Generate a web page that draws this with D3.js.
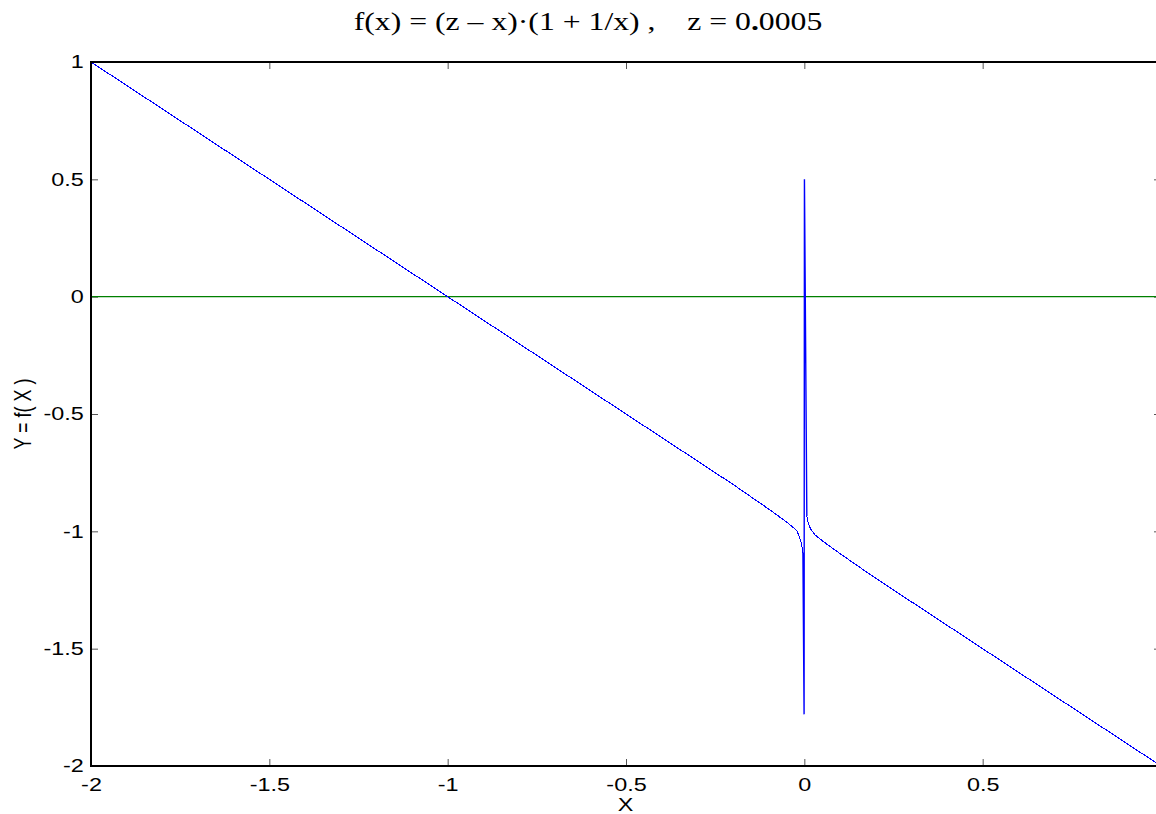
<!DOCTYPE html>
<html>
<head>
<meta charset="utf-8">
<script src="https://cdn.jsdelivr.net/npm/d3@7"></script>
<style>
    body { margin: 0; background: #fff; }
    svg { display: block; }
    .tick text { font-family: "Liberation Sans", Arial, sans-serif; font-size: 18px; fill: #000; }
</style>
</head>
<body>
<svg id="chart" width="1156" height="814"></svg>
<script>
// values
const xTicks = [-2, -1.5, -1, -0.5, 0, 0.5];
const yTicks = [1, 0.5, 0, -0.5, -1, -1.5, -2];
const xDomain = [-2, 1];
const yDomain = [-2, 1];

// left branch of f(x), x < 0
const leftX = [-2, -1.5, -1, -0.5, -0.2, -0.1, -0.05, -0.03, -0.02, -0.01, -0.006, -0.004];
const leftY = [1.0, 0.5, 0.0, -0.5, -0.8, -0.905, -0.96, -0.985, -1.0, -1.04, -1.07, -1.09];
// the spike around zero
const spikeX = [-0.004, -0.0007, 0.0003, 0.007];
const spikeY = [-1.09, -1.78, 0.5, -0.935];
// right branch, x > 0
const rightX = [0.007, 0.01, 0.015, 0.02, 0.03, 0.05, 0.1, 0.2, 0.5, 1.0];
const rightY = [-0.935, -0.96, -0.98, -0.995, -1.015, -1.04, -1.095, -1.2, -1.5, -2.0];
// y = 0 reference line
const zeroX = [-2, 1];
const zeroY = [0, 0];

const margin = { top: 62, left: 91 };
const plotW = 1070, plotH = 704;
// the picture's text is drawn wider than it is tall
const stretch = 1.3;

const svg = d3.select("#chart");

const x = d3.scaleLinear().domain(xDomain).range([margin.left, margin.left + plotW]);
const y = d3.scaleLinear().domain(yDomain).range([margin.top + plotH, margin.top]);

const fmt = (d) => String(d);

// axes, MATLAB style: ticks point inwards, box all round
const g = svg.append("g");

g.append("g")
    .attr("transform", `translate(0,${margin.top + plotH})`)
    .call(d3.axisBottom(x).tickValues(xTicks).tickFormat(fmt).tickSize(-7).tickPadding(12))
    .call((a) => a.select(".domain").remove());
g.append("g")
    .attr("transform", `translate(0,${margin.top})`)
    .call(d3.axisTop(x).tickValues(xTicks).tickFormat("").tickSize(-7))
    .call((a) => a.select(".domain").remove());
g.append("g")
    .attr("transform", `translate(${margin.left},0)`)
    .call(d3.axisLeft(y).tickValues(yTicks).tickFormat(fmt).tickSize(-7).tickPadding(5.5))
    .call((a) => a.select(".domain").remove());
g.append("g")
    .attr("transform", `translate(${margin.left + plotW},0)`)
    .call(d3.axisRight(y).tickValues(yTicks).tickFormat("").tickSize(-7))
    .call((a) => a.select(".domain").remove());

g.selectAll(".tick line").attr("stroke", "#555").attr("stroke-width", 1);
g.selectAll(".tick text").attr("transform", `scale(${stretch},1)`);

const line = d3.line().x((d) => x(d[0])).y((d) => y(d[1]));
const pairs = (xs, ys) => xs.map((v, i) => [v, ys[i]]);

const plot = svg.append("g");

plot.append("path")
    .attr("d", line(pairs(zeroX, zeroY)))
    .attr("fill", "none")
    .attr("stroke", "#008000")
    .attr("stroke-width", 1.2);

[pairs(leftX, leftY), pairs(rightX, rightY)].forEach((pts) => {
    plot.append("path")
        .attr("d", line(pts))
        .attr("fill", "none")
        .attr("stroke", "#0000ff")
        .attr("stroke-width", 1.1)
        .attr("shape-rendering", "crispEdges");
});

plot.append("path")
    .attr("d", line(pairs(spikeX, spikeY)))
    .attr("fill", "none")
    .attr("stroke", "#0000ff")
    .attr("stroke-width", 1.4);

// box
svg.append("rect")
    .attr("x", margin.left)
    .attr("y", margin.top)
    .attr("width", plotW)
    .attr("height", plotH)
    .attr("fill", "none")
    .attr("stroke", "#000")
    .attr("stroke-width", 2);

// labels
svg.append("text")
    .attr("transform", `translate(${margin.left + plotW / 2 - 0.5},811) scale(${stretch},1)`)
    .attr("text-anchor", "middle")
    .style("font-family", "Liberation Sans, Arial, sans-serif")
    .style("font-size", "18px")
    .text("X");

svg.append("text")
    .attr("transform", `translate(31,${margin.top + plotH / 2}) scale(${stretch},1) rotate(-90)`)
    .attr("text-anchor", "middle")
    .style("font-family", "Liberation Sans, Arial, sans-serif")
    .style("font-size", "18px")
    .style("white-space", "pre")
    .text("Y = f( X )");

const title = svg.append("text")
    .attr("transform", "translate(588,30) scale(1.22,1)")
    .attr("text-anchor", "middle")
    .style("font-family", "Liberation Serif, Times New Roman, serif")
    .style("font-size", "26px")
    .style("white-space", "pre");
title.append("tspan").text("f(x) = (z \u2013 x)\u00b7(1 + 1/x) ,    z = 0");
title.append("tspan").style("font-weight", "bold").text(".");
title.append("tspan").text("0005");
</script>
</body>
</html>
